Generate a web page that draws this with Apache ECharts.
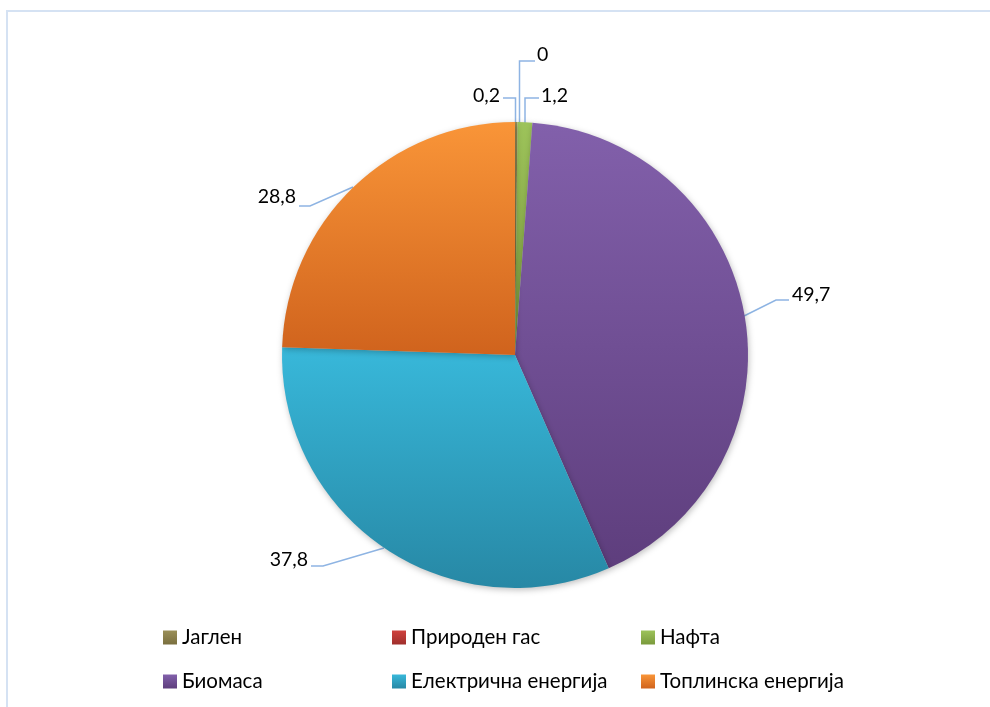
<!DOCTYPE html>
<html>
<head>
<meta charset="utf-8">
<script src="https://cdn.jsdelivr.net/npm/echarts@6/dist/echarts.min.js"></script>
<style>
  html, body { margin: 0; padding: 0; background: #ffffff; }
  #chart { width: 990px; height: 707px; }
</style>
</head>
<body>
<div id="chart"></div>
<script>
// Energy sources and their values
const categories = ['Јаглен', 'Природен гас', 'Нафта', 'Биомаса', 'Електрична енергија', 'Топлинска енергија'];
const values = [0.2, 0, 1.2, 49.7, 37.8, 28.8];

// Top / bottom colours of each slice's vertical gradient
const topColors = ['#9a8f58', '#cf413d', '#9dc35a', '#8260ab', '#38b8da', '#f99538'];
const bottomColors = ['#7a6f3f', '#9f2f2c', '#7a9a3c', '#5e3e7d', '#2788a5', '#d0631d'];

// Leader-line routes and label anchors, per slice
const labelPlacement = [
  { x: 500, y: 96, align: 'right', line: [[515.5, 123], [515.5, 98], [503, 98]] },
  { x: 537, y: 55, align: 'left', line: [[519.5, 123], [519.5, 61], [535, 61]] },
  { x: 541, y: 96, align: 'left', line: [[525, 123], [525, 98], [539, 98]] },
  { x: 792, y: 295, align: 'left', line: [[744, 316], [776, 300], [789, 300]] },
  { x: 308, y: 560, align: 'right', line: [[384, 548], [323, 566], [311, 566]] },
  { x: 296, y: 197, align: 'right', line: [[353, 187], [310, 206], [299, 206]] }
];

const fontFamily = 'Lato, "Noto Sans", sans-serif';

function gradient(i) {
  return new echarts.graphic.LinearGradient(0, 0, 0, 1, [
    { offset: 0, color: topColors[i] },
    { offset: 1, color: bottomColors[i] }
  ]);
}

const seriesData = categories.map((name, i) => ({
  name: name,
  value: values[i],
  itemStyle: { color: gradient(i) }
}));

const legendColumns = [
  { left: 158, names: [categories[0], categories[3]] },
  { left: 387, names: [categories[1], categories[4]] },
  { left: 636, names: [categories[2], categories[5]] }
];

const chart = echarts.init(document.getElementById('chart'), null, { renderer: 'canvas' });

chart.setOption({
  animation: false,
  backgroundColor: '#ffffff',
  graphic: [{
    type: 'rect',
    shape: { x: 7, y: 11, width: 1000, height: 720 },
    style: { fill: 'none', stroke: '#d5e2f3', lineWidth: 2 },
    silent: true,
    z: 0
  }],
  legend: legendColumns.map(col => ({
    data: col.names,
    orient: 'vertical',
    left: col.left,
    top: 622,
    itemWidth: 14,
    itemHeight: 14,
    itemGap: 23,
    icon: 'rect',
    selectedMode: false,
    textStyle: { fontFamily: fontFamily, fontSize: 20.5, color: '#000000', lineHeight: 21 }
  })),
  series: [{
    type: 'pie',
    center: [515, 355],
    radius: [0, 233],
    startAngle: 90,
    clockwise: true,
    avoidLabelOverlap: false,
    minShowLabelAngle: -1,
    data: seriesData,
    itemStyle: {
      borderWidth: 0,
      shadowBlur: 6,
      shadowColor: 'rgba(0,0,0,0.25)',
      shadowOffsetX: 1,
      shadowOffsetY: 2
    },
    emphasis: { disabled: true },
    label: {
      show: true,
      position: 'outside',
      formatter: p => String(p.value).replace('.', ','),
      fontFamily: fontFamily,
      fontSize: 19.5,
      color: '#000000'
    },
    labelLine: {
      show: true,
      length: 20,
      length2: 10,
      lineStyle: { color: '#8eb4e3', width: 1.5 }
    },
    labelLayout: function (params) {
      const p = labelPlacement[params.dataIndex];
      return {
        x: p.x,
        y: p.y,
        align: p.align,
        verticalAlign: 'middle',
        labelLinePoints: p.line
      };
    }
  }]
});
</script>
</body>
</html>
